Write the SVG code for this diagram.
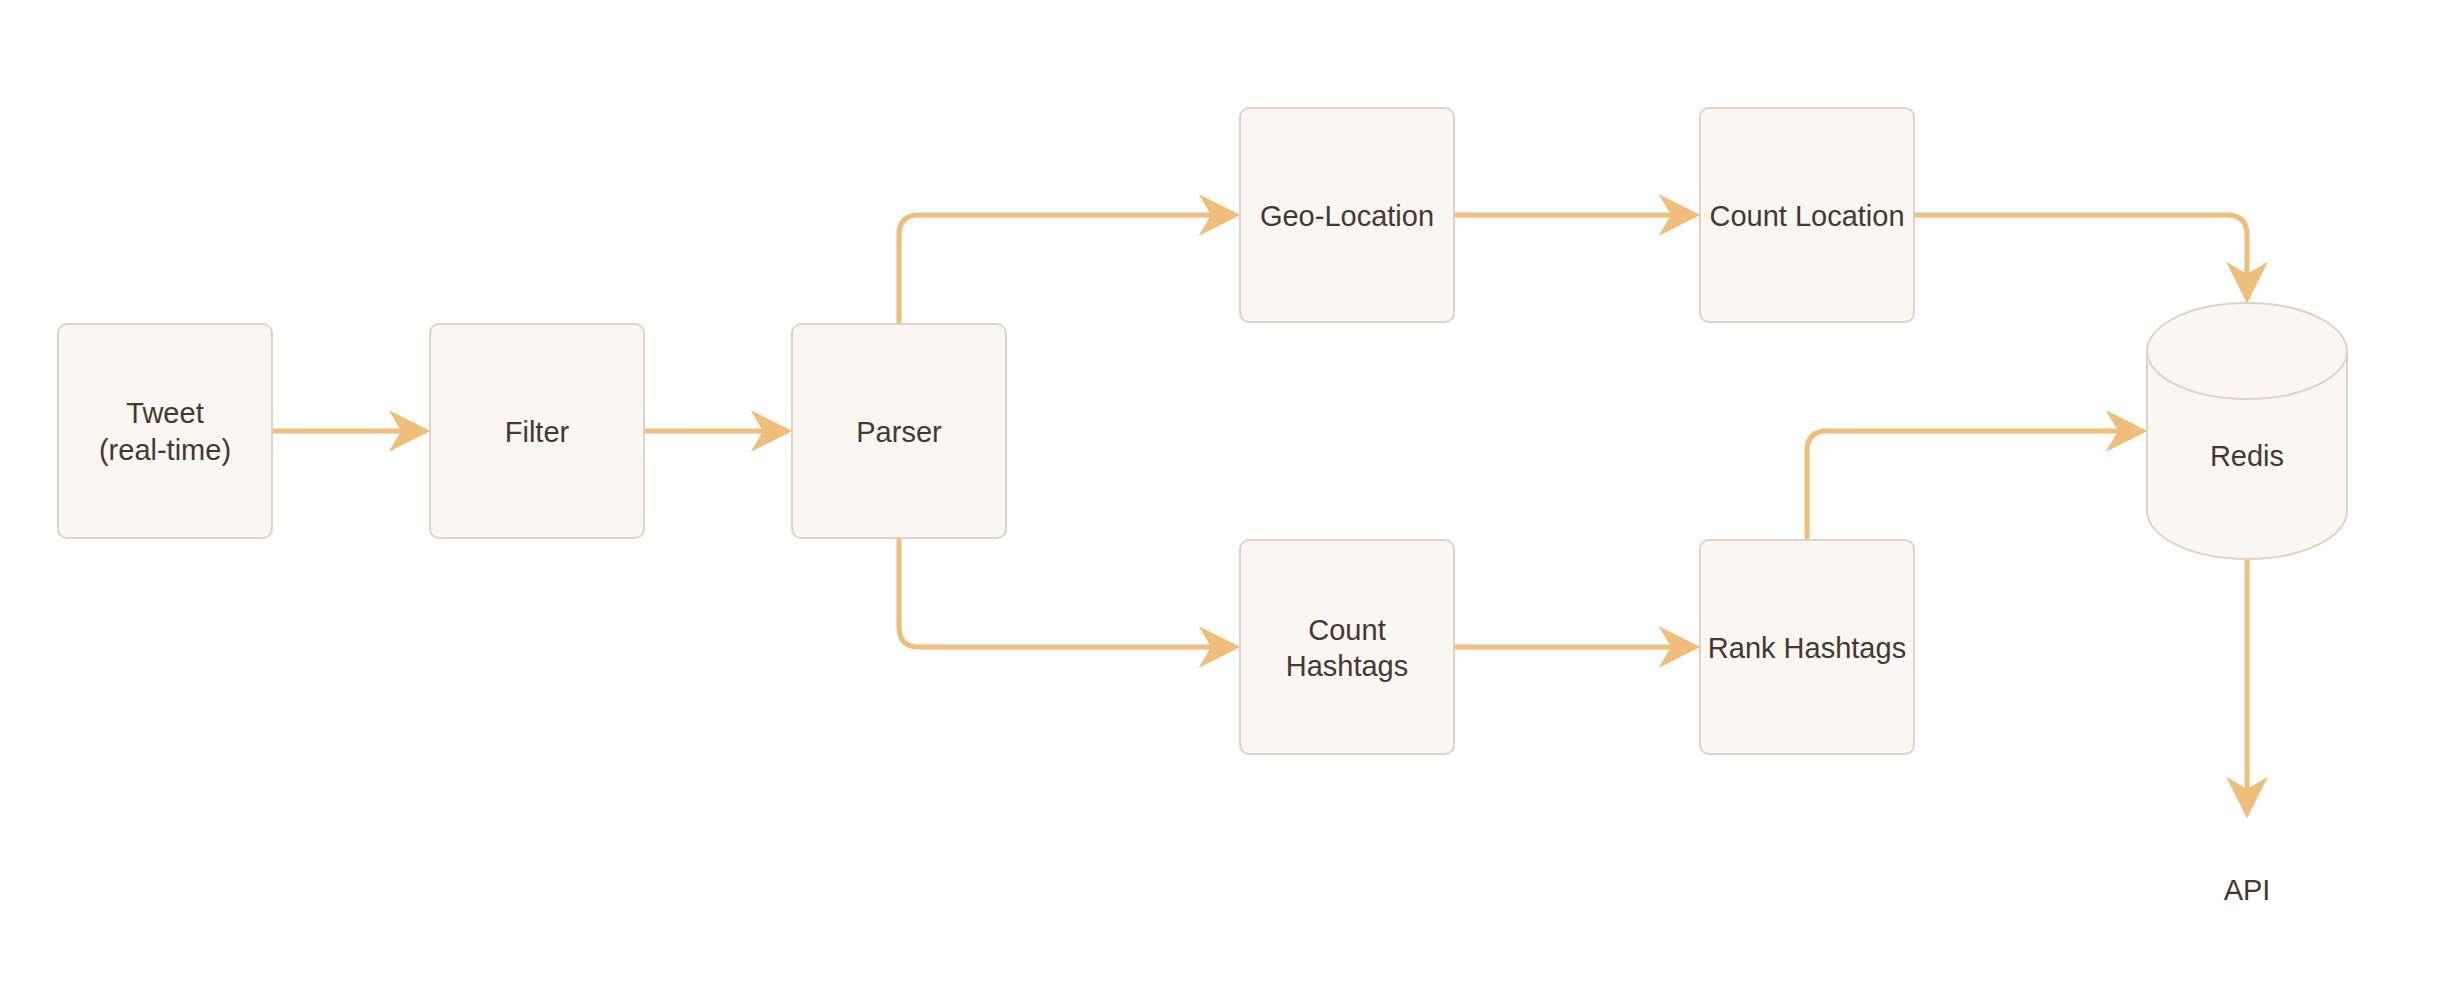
<svg xmlns="http://www.w3.org/2000/svg" width="2438" height="982" viewBox="0 0 2438 982">
  <style>
    .box { fill: #FAF7F3; stroke: #E0D3C6; stroke-width: 2; }
    .lbl { font-family: "Liberation Sans", Arial, sans-serif; font-size: 29px; fill: #45392F; text-anchor: middle; }
    .edge { fill: none; stroke: #F0BE7B; stroke-width: 5; marker-end: url(#arrow); }
  </style>
  <defs>
    <marker id="arrow" markerUnits="userSpaceOnUse" markerWidth="42" markerHeight="42" refX="30" refY="20" orient="auto" viewBox="0 0 40 40">
      <path d="M0,0 L40,20 L0,40 L12,20 Z" fill="#F0BE7B"/>
    </marker>
  </defs>
  <rect width="2438" height="982" fill="#FFFFFF"/>

  <g id="connectors">
    <path class="edge" d="M272,431 H420"/>
    <path class="edge" d="M644,431 H782"/>
    <path class="edge" d="M899,324 V235 Q899,215 919,215 H1230"/>
    <path class="edge" d="M899,538 V627 Q899,647 919,647 H1230"/>
    <path class="edge" d="M1454,215 H1690"/>
    <path class="edge" d="M1454,647 H1690"/>
    <path class="edge" d="M1914,215 H2227 Q2247,215 2247,235 V293"/>
    <path class="edge" d="M1807,540 V451 Q1807,431 1827,431 H2137"/>
    <path class="edge" d="M2247,560 V808"/>
  </g>

  <g id="tweet">
    <rect class="box" x="58" y="324" width="214" height="214" rx="9"/>
    <text class="lbl" x="165" y="423">Tweet</text>
    <text class="lbl" x="165" y="460">(real-time)</text>
  </g>
  <g id="filter">
    <rect class="box" x="430" y="324" width="214" height="214" rx="9"/>
    <text class="lbl" x="537" y="442">Filter</text>
  </g>
  <g id="parser">
    <rect class="box" x="792" y="324" width="214" height="214" rx="9"/>
    <text class="lbl" x="899" y="442">Parser</text>
  </g>
  <g id="geo-location">
    <rect class="box" x="1240" y="108" width="214" height="214" rx="9"/>
    <text class="lbl" x="1347" y="226">Geo-Location</text>
  </g>
  <g id="count-location">
    <rect class="box" x="1700" y="108" width="214" height="214" rx="9"/>
    <text class="lbl" x="1807" y="226">Count Location</text>
  </g>
  <g id="count-hashtags">
    <rect class="box" x="1240" y="540" width="214" height="214" rx="9"/>
    <text class="lbl" x="1347" y="640">Count</text>
    <text class="lbl" x="1347" y="676">Hashtags</text>
  </g>
  <g id="rank-hashtags">
    <rect class="box" x="1700" y="540" width="214" height="214" rx="9"/>
    <text class="lbl" x="1807" y="658">Rank Hashtags</text>
  </g>
  <g id="redis">
    <path class="box" d="M2147,351 A100,48 0 0 1 2347,351 V511 A100,48 0 0 1 2147,511 Z"/>
    <path class="box" style="fill:none" d="M2147,351 A100,48 0 0 0 2347,351"/>
    <text class="lbl" x="2247" y="466">Redis</text>
  </g>
  <g id="api">
    <text class="lbl" x="2247" y="900">API</text>
  </g>
</svg>
